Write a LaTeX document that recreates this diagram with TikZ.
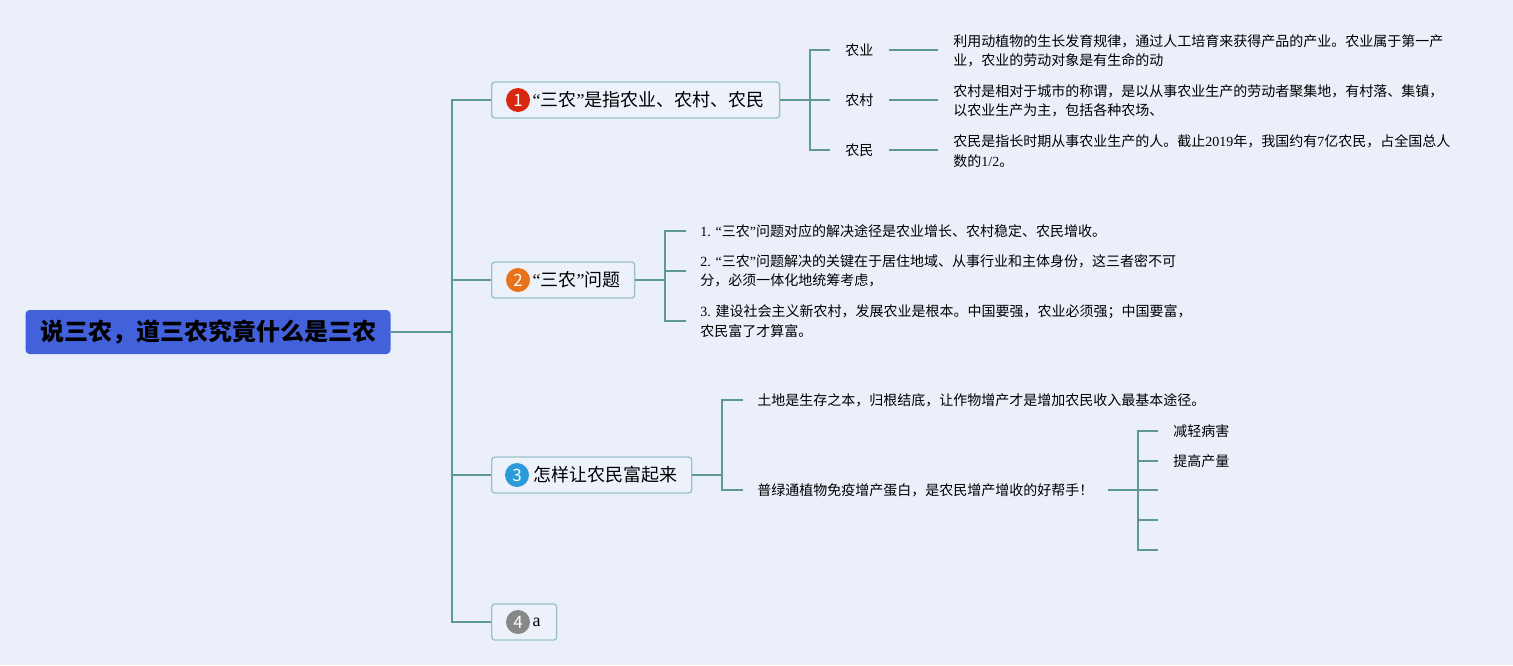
\documentclass[tikz,border=0pt]{standalone}
\usepackage{fontspec}
\setmainfont{Noto Sans CJK SC}
\newfontfamily\lat{Liberation Serif}
\usetikzlibrary{positioning}

\definecolor{bgcol}{HTML}{EBEFFA}
\definecolor{rootcol}{HTML}{4461DC}
\definecolor{linecol}{HTML}{5E9892}
\definecolor{boxline}{HTML}{9BC2C9}
\definecolor{boxfill}{HTML}{EDF1FA}
\definecolor{numred}{HTML}{D8270F}
\definecolor{numorange}{HTML}{E8721A}
\definecolor{numblue}{HTML}{2A9AD8}
\definecolor{numgray}{HTML}{888888}

\newcommand\sannong{{\lat “}三农{\lat ”}}

\tikzset{
  root/.style={fill=rootcol, rounded corners=2pt, minimum width=182.5pt,
    minimum height=22pt, inner sep=0pt, font=\bfseries\fontsize{12}{14}\selectfont},
  topic/.style={draw=boxline, fill=boxfill, rounded corners=1.5pt, line width=0.7pt,
    minimum height=18pt, inner xsep=0pt, inner ysep=0pt, anchor=west,
    font=\fontsize{9}{11}\selectfont},
  num/.style={circle, fill=#1, text=white, minimum size=12pt, inner sep=0pt,
    font=\fontsize{8.5}{9}\selectfont},
  sub/.style={anchor=west, inner xsep=7.5pt, inner ysep=1pt, font=\fontsize{7}{9.7}\selectfont},
  leaf/.style={anchor=west, align=left, inner xsep=7pt, inner ysep=1pt,
    font=\fontsize{7}{9.7}\selectfont},
  branch/.style={draw=linecol, line width=1pt},
}

\begin{document}
\begin{tikzpicture}[x=0.5pt,y=-0.5pt]
\fill[bgcol] (0,0) rectangle (1513,665);
\useasboundingbox (0,0) rectangle (1513,665);

% centre and trunk
\node[root] (root) at (208,332) {说三农，道三农究竟什么是三农};
\coordinate (trunk) at (452,332);

% main topics
\node[topic] (t1) at (491,100) {\hspace*{20.5pt}\sannong 是指农业、农村、农民\hspace*{7.5pt}};
\node[topic] (t2) at (491,280) {\hspace*{20.5pt}\sannong 问题\hspace*{7pt}};
\node[topic] (t3) at (491,475) {\hspace*{21pt}怎样让农民富起来\hspace*{7pt}};
\node[topic] (t4) at (491,622) {\hspace*{20.5pt}{\lat a}\hspace*{8pt}};

\node[num=numred] (n1) at ([xshift=13.5pt]t1.west) {1};
\node[num=numorange] (n2) at ([xshift=13.5pt]t2.west) {2};
\node[num=numblue] (n3) at ([xshift=13pt]t3.west) {3};
\node[num=numgray] (n4) at ([xshift=13.5pt]t4.west) {4};

\draw[branch] (root.east) -- (trunk);
\foreach \t in {t1,t2,t3,t4}
  \draw[branch] (trunk) |- (\t.west);

% topic 1
\coordinate (j1) at (810,100);
\node[sub] (l11) at (830,50) {农业};
\node[sub] (l12) at (830,100) {农村};
\node[sub] (l13) at (830,150) {农民};
\node[leaf, inner xsep=7.5pt] (d11) at (938,51) {利用动植物的生长发育规律，通过人工培育来获得产品的产业。农业属于第一产\\业，农业的劳动对象是有生命的动};
\node[leaf, inner xsep=7.5pt] (d12) at (938,101) {农村是相对于城市的称谓，是以从事农业生产的劳动者聚集地，有村落、集镇，\\以农业生产为主，包括各种农场、};
\node[leaf, inner xsep=7.5pt] (d13) at (938,151) {农民是指长时期从事农业生产的人。截止{\lat 2019}年，我国约有{\lat 7}亿农民，占全国总人\\数的{\lat 1/2}。};

\draw[branch] (t1.east) -- (j1);
\foreach \i in {1,2,3}
{
  \draw[branch] (j1) |- (l1\i.west);
  \draw[branch] (l1\i.east) -- (l1\i.east -| d1\i.west);
}

% topic 2
\coordinate (j2) at (665,280);
\node[leaf] (p21) at (686,231) {{\lat 1. }\sannong 问题对应的解决途径是农业增长、农村稳定、农民增收。};
\node[leaf] (p22) at (686,271) {{\lat 2. }\sannong 问题解决的关键在于居住地域、从事行业和主体身份，这三者密不可\\分，必须一体化地统筹考虑，};
\node[leaf] (p23) at (686,321) {{\lat 3. }建设社会主义新农村，发展农业是根本。中国要强，农业必须强；中国要富，\\农民富了才算富。};

\draw[branch] (t2.east) -- (j2);
\foreach \i in {1,2,3}
  \draw[branch] (j2) |- (p2\i.west);

% topic 3
\coordinate (j3) at (722,475);
\node[leaf] (q31) at (743,400) {土地是生存之本，归根结底，让作物增产才是增加农民收入最基本途径。};
\node[leaf] (q32) at (743,490) {普绿通植物免疫增产蛋白，是农民增产增收的好帮手！};

\draw[branch] (t3.east) -- (j3);
\draw[branch] (j3) |- (q31.west);
\draw[branch] (j3) |- (q32.west);

\coordinate (j4) at (1138,490);
\node[sub] (r1) at (1158,431) {减轻病害};
\node[sub] (r2) at (1158,461) {提高产量};
\coordinate (r3) at (1158,490);
\coordinate (r4) at (1158,520);
\coordinate (r5) at (1158,550);

\draw[branch] (q32.east) -- (j4);
\draw[branch] (j4) |- (r1.west);
\draw[branch] (j4) |- (r2.west);
\foreach \r in {r3,r4,r5}
  \draw[branch] (j4) |- (\r);

\end{tikzpicture}
\end{document}
